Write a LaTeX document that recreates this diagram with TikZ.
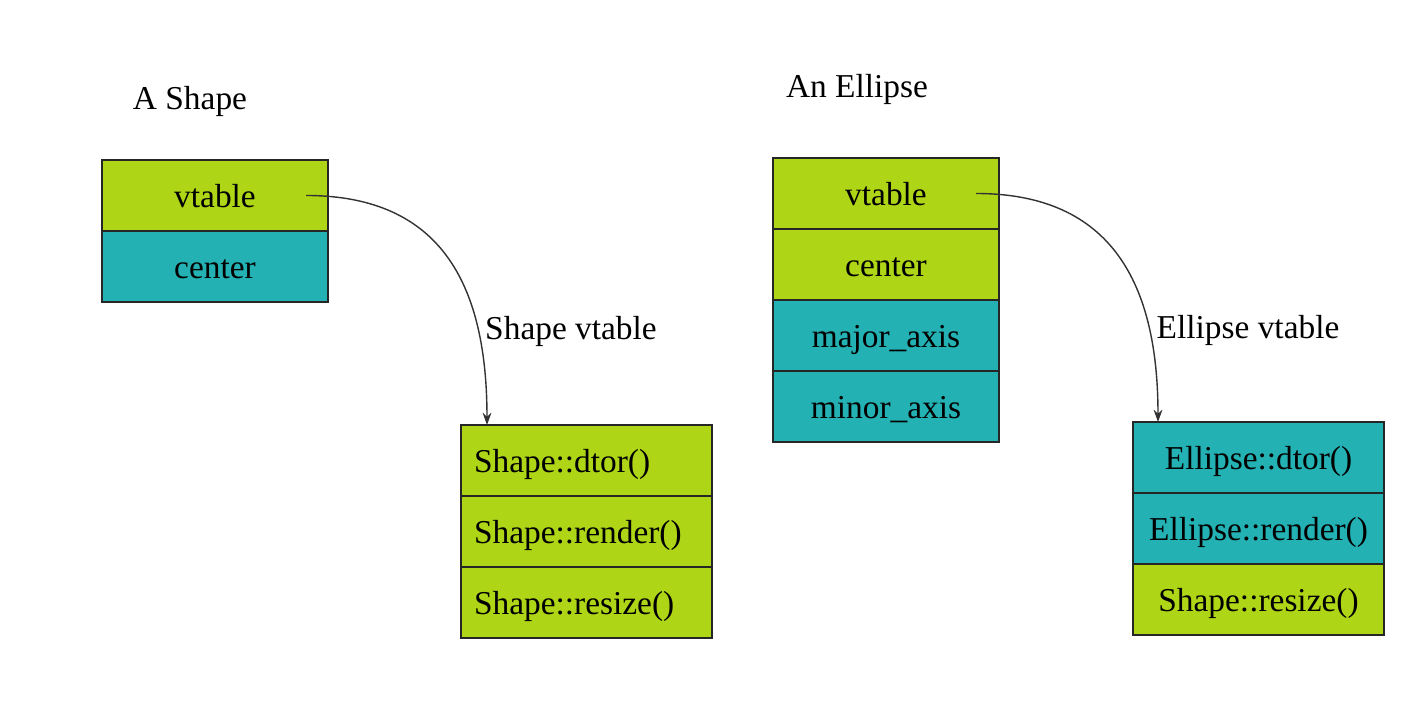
\documentclass[tikz,border=0pt]{standalone}
\usepackage{fontspec}
\setmainfont{Liberation Serif}
\usetikzlibrary{arrows.meta,positioning,calc}
\definecolor{FieldLime}{HTML}{AFD616}
\definecolor{FieldTeal}{HTML}{24B1B3}
\tikzset{
  field/.style={draw=black!85,line width=0.6pt,minimum width=2.26cm,minimum height=0.71cm,
    inner sep=0pt,outer sep=0pt,text height=0.24cm,text depth=0pt,font=\fontsize{9.5}{11}\selectfont},
  fieldLime/.style={field,fill=FieldLime},
  fieldTeal/.style={field,fill=FieldTeal},
  slotLime/.style={fieldLime,minimum width=2.51cm},
  slotTeal/.style={fieldTeal,minimum width=2.51cm},
  slotLeft/.style={slotLime,inner xsep=0.13cm,text width=2.25cm,align=left},
  caption/.style={font=\fontsize{9.5}{11}\selectfont},
  pointer/.style={black!80,line width=0.4pt,-{Stealth[length=3.5pt,width=2.5pt]}}
}
\begin{document}
\begin{tikzpicture}
    \useasboundingbox (0,0) rectangle (14.14,-7.14);
    % A Shape object
    \node[caption] (shapeTitle) at (1.90,-1.01) {A Shape};
    \node[fieldLime,anchor=north west] (shapeVtbl) at (1.02,-1.60) {vtable};
    \node[fieldTeal,below=0pt of shapeVtbl] (shapeCenter) {center};
    % Shape vtable
    \node[caption] (shapeTblTitle) at (5.71,-3.31) {Shape vtable};
    \node[slotLeft,anchor=north west] (shapeDtor) at (4.61,-4.25) {Shape::dtor()};
    \node[slotLeft,below=0pt of shapeDtor] (shapeRender) {Shape::render()};
    \node[slotLeft,below=0pt of shapeRender] (shapeResize) {Shape::resize()};
    % An Ellipse object
    \node[caption] (ellTitle) at (8.57,-0.89) {An Ellipse};
    \node[fieldLime,anchor=north west] (ellVtbl) at (7.73,-1.58) {vtable};
    \node[fieldLime,below=0pt of ellVtbl] (ellCenter) {center};
    \node[fieldTeal,below=0pt of ellCenter] (ellMajor) {major\_axis};
    \node[fieldTeal,below=0pt of ellMajor] (ellMinor) {minor\_axis};
    % Ellipse vtable
    \node[caption] (ellTblTitle) at (12.48,-3.30) {Ellipse vtable};
    \node[slotTeal,anchor=north west] (ellDtor) at (11.33,-4.22) {Ellipse::dtor()};
    \node[slotTeal,below=0pt of ellDtor] (ellRender) {Ellipse::render()};
    \node[slotLime,below=0pt of ellRender] (ellResize) {Shape::resize()};
    % pointers
    \coordinate (shapePtr) at ($(shapeVtbl.east)+(-0.22,0)$);
    \coordinate (shapeTarget) at ($(shapeDtor.north west)+(0.26,0)$);
    \coordinate (ellPtr) at ($(ellVtbl.east)+(-0.23,0)$);
    \coordinate (ellTarget) at ($(ellDtor.north west)+(0.25,0)$);
    \draw[pointer] (shapePtr) to[out=0,in=90,looseness=1.2] (shapeTarget);
    \draw[pointer] (ellPtr) to[out=0,in=90,looseness=1.2] (ellTarget);
\end{tikzpicture}
\end{document}
